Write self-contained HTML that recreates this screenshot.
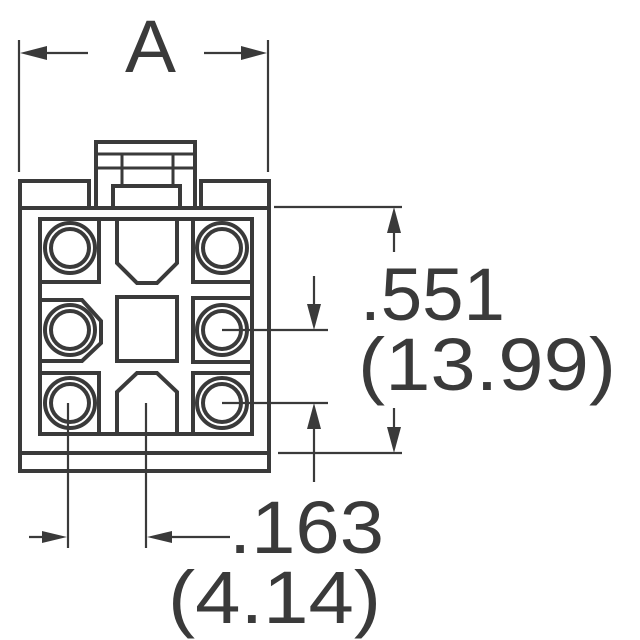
<!DOCTYPE html>
<html><head><style>html,body{margin:0;padding:0;background:#fff}svg{display:block}</style></head>
<body>
<svg width="640" height="640" viewBox="0 0 640 640" xmlns="http://www.w3.org/2000/svg">
<g fill="none" stroke="#3a3a3a" stroke-width="4">
  <rect x="96" y="142" width="99" height="66"/>
  <line x1="96" y1="154" x2="195" y2="154" stroke-width="3"/>
  <line x1="96" y1="168" x2="195" y2="168" stroke-width="3"/>
  <line x1="122" y1="154" x2="122" y2="186" stroke-width="3"/>
  <line x1="173" y1="154" x2="173" y2="186" stroke-width="3"/>
  <rect x="113" y="186" width="67" height="22"/>
  <rect x="20" y="181" width="69" height="27"/>
  <rect x="201" y="181" width="68" height="27"/>
  <rect x="20" y="208" width="249" height="263"/>
  <line x1="20" y1="453" x2="269" y2="453"/>
  <rect x="40" y="219" width="212" height="215"/>
  <rect x="40" y="219" width="59" height="63"/>
  <rect x="40" y="373" width="59" height="61"/>
  <rect x="193" y="219" width="59" height="63"/>
  <rect x="193" y="298" width="59" height="64"/>
  <rect x="193" y="373" width="59" height="61"/>
  <polygon points="40,300 82,300 101,321 101,343 82,361 40,361"/>
  <polygon points="117,219 177,219 177,263 157,283 137,283 117,263"/>
  <rect x="117" y="297" width="60" height="64"/>
  <polygon points="117,434 117,392 137,373 157,373 177,392 177,434"/>
</g>
<g fill="none" stroke="#3a3a3a">
  <g stroke-width="4">
    <circle cx="70" cy="248" r="25"/><circle cx="222" cy="248" r="25"/>
    <circle cx="70" cy="330" r="25"/><circle cx="222" cy="330" r="25"/>
    <circle cx="70" cy="403" r="25"/><circle cx="222" cy="403" r="25"/>
    <circle cx="70" cy="248" r="19"/><circle cx="222" cy="248" r="19"/>
    <circle cx="70" cy="330" r="19"/><circle cx="222" cy="330" r="19"/>
    <circle cx="70" cy="403" r="19"/><circle cx="222" cy="403" r="19"/>
  </g>
  <g stroke-width="2.2">
    <line x1="19" y1="40" x2="19" y2="172"/>
    <line x1="268" y1="40" x2="268" y2="172"/>
    <line x1="30" y1="53" x2="88" y2="53"/>
    <line x1="204" y1="53" x2="258" y2="53"/>
    <line x1="274" y1="207" x2="402" y2="207"/>
    <line x1="278" y1="453" x2="402" y2="453"/>
    <line x1="394" y1="215" x2="394" y2="252"/>
    <line x1="394" y1="408" x2="394" y2="445"/>
    <line x1="222" y1="330" x2="328" y2="330"/>
    <line x1="222" y1="403" x2="328" y2="403"/>
    <line x1="314" y1="276" x2="314" y2="322"/>
    <line x1="314" y1="411" x2="314" y2="482"/>
    <line x1="68" y1="403" x2="68" y2="548"/>
    <line x1="146" y1="403" x2="146" y2="548"/>
    <line x1="29" y1="537" x2="60" y2="537"/>
    <line x1="154" y1="537" x2="230" y2="537"/>
  </g>
</g>
<g fill="#3a3a3a">
  <polygon points="20,53 47,46 47,60"/>
  <polygon points="267,53 241,46 241,60"/>
  <polygon points="394,207 387,233 401,233"/>
  <polygon points="394,453 387,427 401,427"/>
  <polygon points="314,330 307,304 321,304"/>
  <polygon points="314,403 307,429 321,429"/>
  <polygon points="67,537 42,531 42,543"/>
  <polygon points="147,537 172,531 172,543"/>
</g>
<g fill="#3a3a3a" font-family="'Liberation Sans', sans-serif" font-size="74" lengthAdjust="spacingAndGlyphs">
  <text x="125" y="72" textLength="51" lengthAdjust="spacingAndGlyphs">A</text>
  <text x="360" y="320" textLength="145" lengthAdjust="spacingAndGlyphs">.551</text>
  <text x="358" y="390" textLength="258" lengthAdjust="spacingAndGlyphs">(13.99)</text>
  <text x="229" y="553" textLength="155" lengthAdjust="spacingAndGlyphs">.163</text>
  <text x="168" y="623" textLength="213" lengthAdjust="spacingAndGlyphs">(4.14)</text>
</g>
</svg>
</body></html>
